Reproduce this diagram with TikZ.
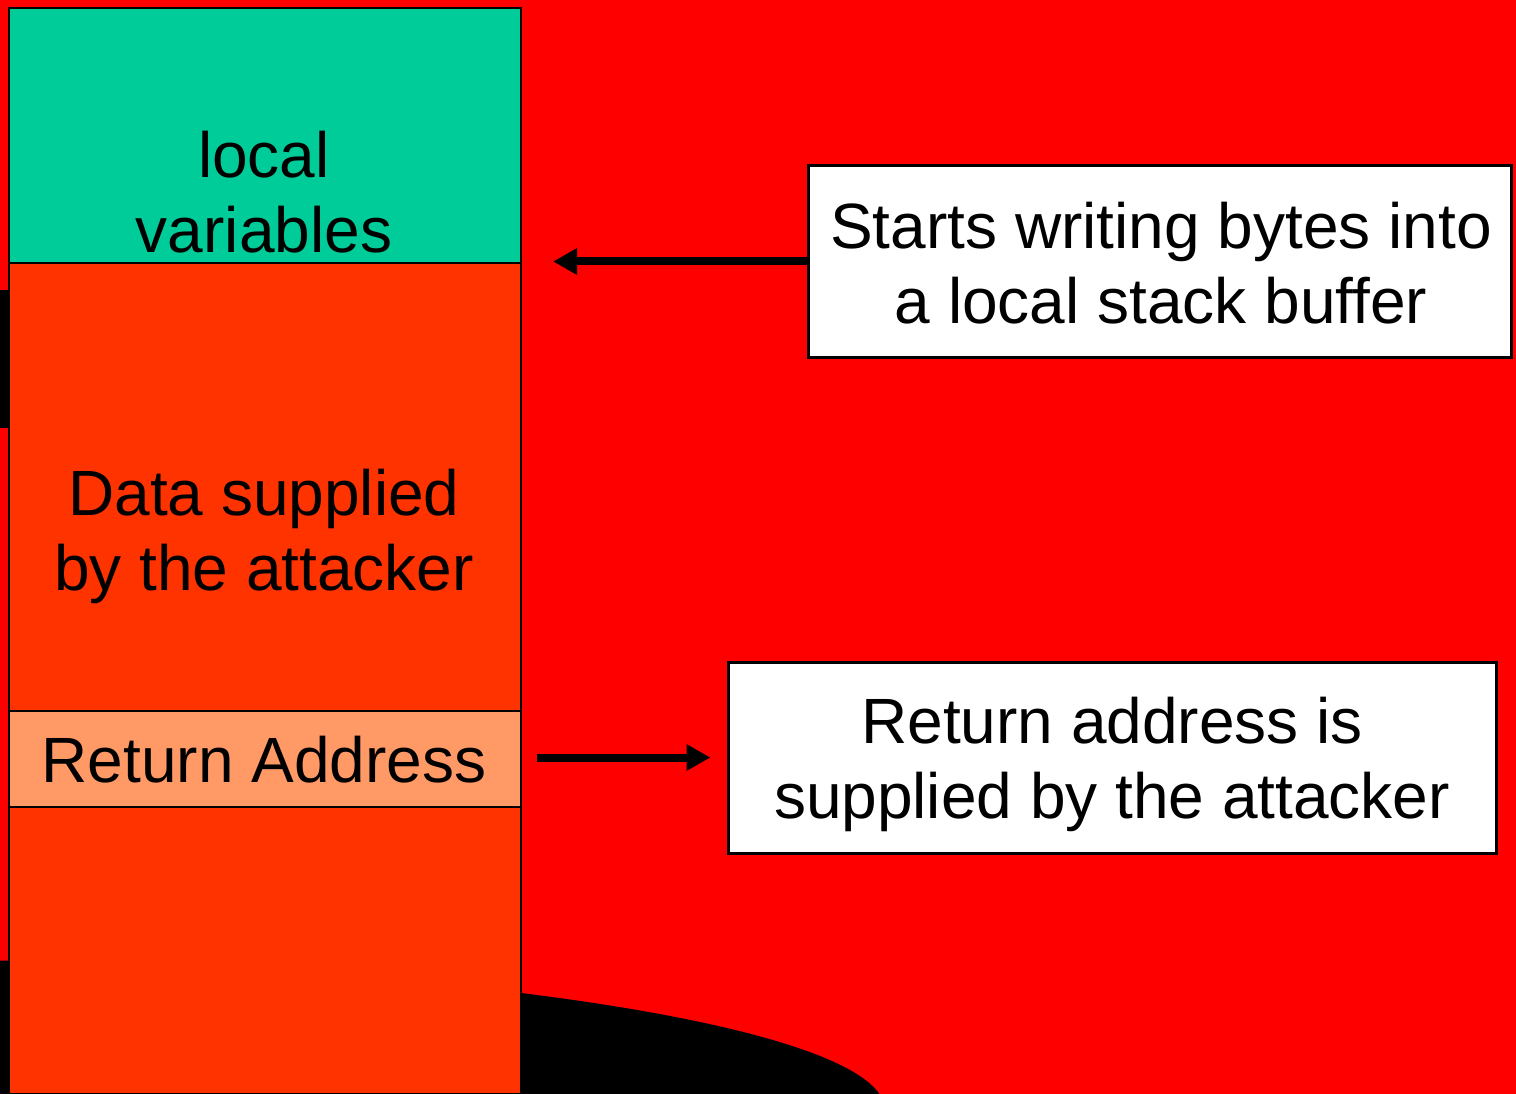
\documentclass[tikz,border=0pt]{standalone}
\usepackage{fontspec}
\setmainfont{Liberation Sans}
\usetikzlibrary{arrows.meta}

\definecolor{bgred}{HTML}{FF0000}
\definecolor{localgreen}{HTML}{00CC99}
\definecolor{stackred}{HTML}{FF3300}
\definecolor{retorange}{HTML}{FF9966}

\tikzset{
  cell/.style={draw=black, line width=2pt, rectangle, inner sep=0pt,
               minimum width=512pt, anchor=north west},
  label/.style={inner sep=0pt, align=center, font=\fontsize{64}{75}\selectfont},
  callout/.style={draw=black, line width=3pt, fill=white, rectangle, inner sep=0pt},
  pointer/.style={line width=8pt, -{Triangle[length=24pt,width=25pt]}},
}

\begin{document}
\begin{tikzpicture}[x=1pt, y=-1pt]
  \useasboundingbox (0,0) rectangle (1516,1094);
  \begin{scope}
    \clip (0,0) rectangle (1516,1094);
    % backdrop
    \fill[bgred] (0,0) rectangle (1516,1094);
    \fill[black] (-88,1110) ellipse [x radius=973, y radius=150];
    \fill[black] (0,290) rectangle (8,428);

    % stack frame cells
    \node[cell, fill=localgreen, minimum height=255pt] (locals) at (8,7) {};
    \node[cell, fill=stackred, minimum height=448pt] (buffer) at (8,262) {};
    \node[cell, fill=retorange, minimum height=96pt] (retaddr) at (8,710) {};
    \node[cell, fill=stackred, minimum height=287pt] (below) at (8,806) {};
  \end{scope}

  % cell texts
  \node[label] (localstxt) at (264,192) {local\\variables};
  \node[label] (buffertxt) at (264,536.3) {Data supplied\\by the attacker};
  \node[label, anchor=base] (retaddrtxt) at (264,782) {Return Address};

  % callout boxes
  \node[callout, minimum width=703pt, minimum height=191pt] (writebox) at (1159.5,261.5) {};
  \node[label] (writetxt) at (1161,263.1) {Starts writing bytes into\\a local stack buffer};
  \node[callout, minimum width=768pt, minimum height=191pt] (retbox) at (1112,757.5) {};
  \node[label] (rettxt) at (1112,764.8) {Return address is\\supplied by the attacker};

  % pointers
  \coordinate (writetip) at (553,261.5);
  \coordinate (retstart) at (537,757.5);
  \draw[pointer] (writebox.west) -- (writetip);
  \draw[pointer, shorten >=16pt] (retstart) -- (retbox.west);
\end{tikzpicture}
\end{document}
